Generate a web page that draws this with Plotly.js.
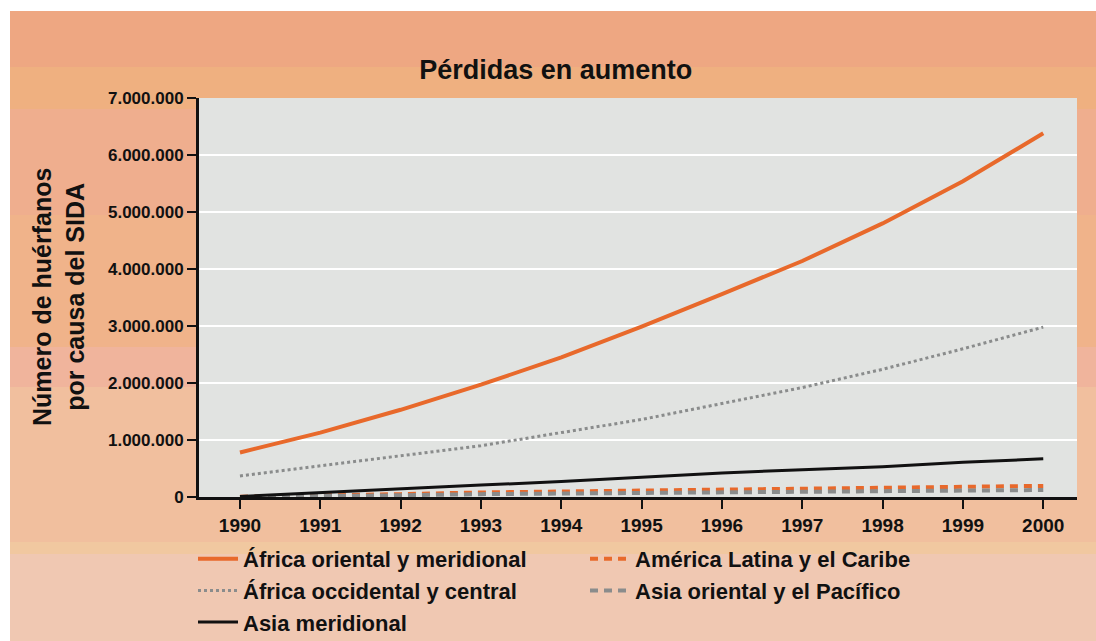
<!DOCTYPE html>
<html>
<head>
<meta charset="utf-8">
<script src="https://cdn.plot.ly/plotly-3.0.1.min.js"></script>
<style>
  html, body { margin: 0; padding: 0; background: #ffffff; }
  #wrap {
    position: absolute; left: 0; top: 0; width: 1096px; height: 641px;
    background: linear-gradient(to bottom,
      #ffffff 0px, #ffffff 11px,
      #EEA782 11px, #EEA782 67px,
      #EFB080 67px, #EFB080 109px,
      #EFAE8E 109px, #EFAE8E 215px,
      #F0B38A 215px, #F0B38A 347px,
      #F0B49C 347px, #F0B49C 387px,
      #F1BF9E 387px, #F1BF9E 542px,
      #F1C8A0 542px, #F1C8A0 554px,
      #F0C8B2 554px, #F0C8B2 641px);
  }
  #wrap:before { content: ""; position: absolute; left: 0; top: 0; width: 10px; height: 641px; background: #fff; }
  #chart { position: absolute; left: 0; top: 0; width: 1096px; height: 641px; }
</style>
</head>
<body>
<div id="wrap"><div id="chart"></div></div>
<script>
const years = [1990, 1991, 1992, 1993, 1994, 1995, 1996, 1997, 1998, 1999, 2000];
const africaOriental   = [780000, 1130000, 1530000, 1970000, 2450000, 2990000, 3560000, 4140000, 4800000, 5540000, 6380000];
const americaLatina    = [5000, 20000, 50000, 80000, 95000, 110000, 125000, 140000, 155000, 175000, 195000];
const africaOccidental = [370000, 550000, 720000, 900000, 1130000, 1360000, 1640000, 1920000, 2240000, 2600000, 2980000];
const asiaOriental     = [2000, 10000, 30000, 50000, 62000, 75000, 85000, 93000, 106000, 115000, 123000];
const asiaMeridional   = [10000, 80000, 140000, 210000, 270000, 350000, 420000, 480000, 530000, 610000, 670000];
const yTicks = [0, 1000000, 2000000, 3000000, 4000000, 5000000, 6000000, 7000000];

const FONT = '"Liberation Sans", Arial, sans-serif';
const ORANGE = '#E8692B';
const GRAY = '#8A8C8C';

const traces = [
  {x: years, y: africaOriental, name: 'África oriental y meridional', mode: 'lines',
   line: {color: ORANGE, width: 4}},
  {x: years, y: americaLatina, name: 'América Latina y el Caribe', mode: 'lines',
   line: {color: ORANGE, width: 4, dash: '8px,6px'}},
  {x: years, y: africaOccidental, name: 'África occidental y central', mode: 'lines',
   line: {color: GRAY, width: 3, dash: 'dot'}},
  {x: years, y: asiaOriental, name: 'Asia oriental y el Pacífico', mode: 'lines',
   line: {color: GRAY, width: 4, dash: '8px,6px'}},
  {x: years, y: asiaMeridional, name: 'Asia meridional', mode: 'lines',
   line: {color: '#111111', width: 3}}
];

const layout = {
  width: 1096, height: 641,
  paper_bgcolor: 'rgba(0,0,0,0)',
  plot_bgcolor: '#E1E3E1',
  separators: ',.',
  margin: {l: 199, r: 19, t: 98, b: 144, autoexpand: false},
  font: {family: FONT, color: '#111111'},
  title: {text: '<b>Pérdidas en aumento</b>', font: {size: 27, family: FONT, color: '#111'},
          x: 0.507, xref: 'container', xanchor: 'center', y: 1 - 70/641, yref: 'container', yanchor: 'middle'},
  xaxis: {
    range: [1989.49, 2000.42], tickvals: years, ticktext: years.map(String),
    showgrid: false, zeroline: false,
    showline: true, linecolor: '#111', linewidth: 3,
    ticks: 'outside', ticklen: 9, tickwidth: 2, tickcolor: '#111',
    tickfont: {size: 19, family: FONT, color: '#111', weight: 'bold'}
  },
  yaxis: {
    range: [0, 7000000], tickvals: yTicks, tickformat: ',d',
    showgrid: true, gridcolor: '#ffffff', gridwidth: 2, zeroline: false,
    showline: true, linecolor: '#111', linewidth: 3,
    ticks: 'outside', ticklen: 9, tickwidth: 2, tickcolor: '#111',
    tickfont: {size: 17, family: FONT, color: '#111', weight: 'bold'}
  },
  annotations: [{
    text: '<b>Número de huérfanos<br>por causa del SIDA</b>',
    textangle: -90, xref: 'paper', yref: 'paper', x: -0.160, y: 0.5,
    xanchor: 'center', yanchor: 'middle', showarrow: false,
    font: {size: 25, family: FONT, color: '#111'}
  }],
  legend: {
    orientation: 'h', x: 193/1096, xanchor: 'left', xref: 'container',
    y: 1 - 538/641, yanchor: 'top', yref: 'container',
    entrywidth: 337, entrywidthmode: 'pixels',
    bgcolor: 'rgba(0,0,0,0)', traceorder: 'normal',
    font: {size: 22, family: FONT, color: '#111', weight: 'bold'},
    itemwidth: 40
  },
  showlegend: true
};

Plotly.newPlot('chart', traces, layout, {displayModeBar: false, staticPlot: true});
</script>
</body>
</html>
